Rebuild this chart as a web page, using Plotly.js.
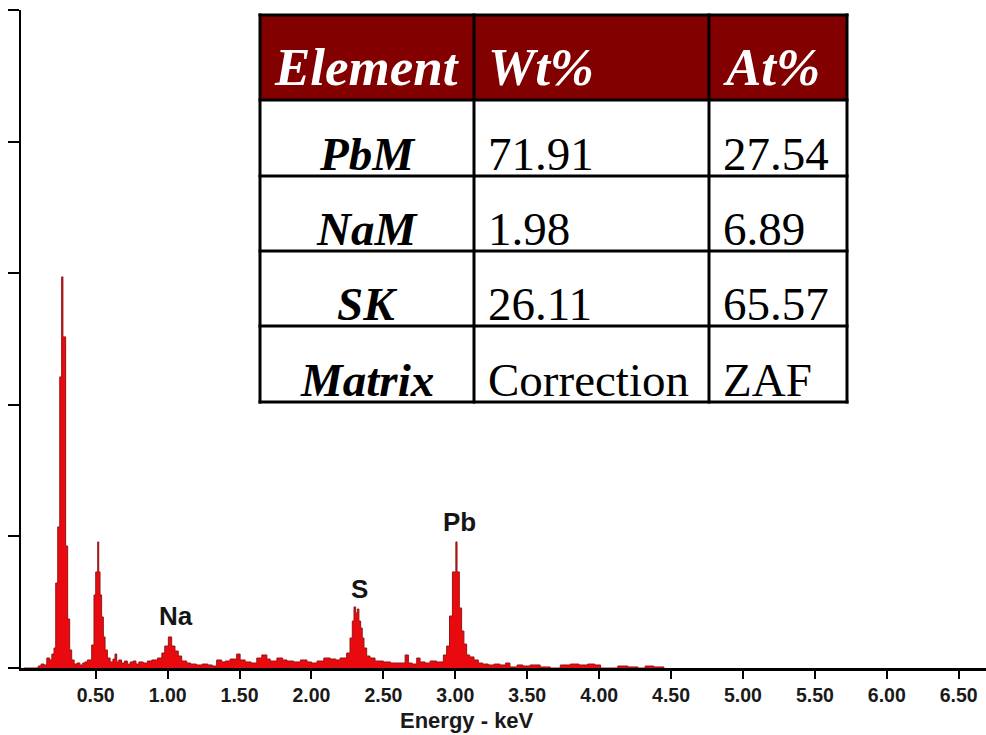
<!DOCTYPE html>
<html>
<head>
<meta charset="utf-8">
<script src="https://cdn.plot.ly/plotly-3.0.1.min.js"></script>
<style>
  html, body { margin: 0; padding: 0; background: #ffffff; }
  #chart { width: 986px; height: 735px; }
</style>
</head>
<body>
<div id="chart"></div>
<script>
// ---- Spectrum data (energy in keV, counts) ----
const energy = [0.00,0.10,0.12,0.14,0.16,0.18,0.195,0.21,0.222,0.236,
  0.250,0.263,0.272,0.291,0.305,0.319,0.333,0.35,0.37,0.39,
  0.41,0.425,0.442,0.472,0.488,0.500,0.514,0.521,0.530,0.541,
  0.553,0.565,0.581,0.60,0.62,0.634,0.646,0.66,0.68,0.70,
  0.72,0.74,0.76,0.78,0.80,0.83,0.86,0.89,0.93,0.96,
  0.98,1.005,1.028,1.051,1.074,1.098,1.133,1.16,1.20,1.24,
  1.28,1.31,1.341,1.376,1.40,1.434,1.48,1.504,1.539,1.58,
  1.62,1.655,1.69,1.713,1.76,1.80,1.83,1.876,1.923,1.969,
  2.00,2.039,2.086,2.13,2.17,2.199,2.245,2.268,2.284,2.296,
  2.307,2.319,2.330,2.342,2.353,2.365,2.384,2.407,2.442,2.50,
  2.55,2.593,2.651,2.674,2.70,2.732,2.755,2.79,2.825,2.87,
  2.917,2.940,2.960,2.980,3.004,3.012,3.028,3.044,3.060,3.079,
  3.10,3.13,3.16,3.19,3.23,3.27,3.31,3.35,3.38,3.43,
  3.47,3.52,3.59,3.66,3.73,3.80,3.86,3.92,3.97,4.01,
  4.13,4.20,4.27,4.32,4.38,4.45];
const counts = [0,15,30,23,76,61,106,152,646,1072,
  2212,2972,2516,927,372,137,61,30,38,23,
  38,46,61,175,555,730,958,730,555,388,
  236,137,76,46,68,106,46,61,38,53,
  30,46,53,30,46,38,53,61,76,114,
  167,236,167,129,91,53,38,30,23,30,
  23,15,61,46,53,68,106,61,46,38,
  76,99,68,53,76,61,53,46,61,46,
  38,53,76,68,61,76,114,228,357,464,
  418,448,357,304,228,152,91,76,53,46,
  38,38,99,38,30,76,46,38,53,46,
  99,167,395,730,958,730,456,281,182,99,
  84,61,38,30,23,30,23,38,8,23,
  15,23,8,0,23,30,23,30,23,0,
  15,8,0,15,8,0];

// ---- Axis ticks ----
const xTickVals = [0.5,1.0,1.5,2.0,2.5,3.0,3.5,4.0,4.5,5.0,5.5,6.0,6.5];
const xTickText = ["0.50","1.00","1.50","2.00","2.50","3.00","3.50","4.00","4.50","5.00","5.50","6.00","6.50"];
const yTickVals = [0,1000,2000,3000,4000,5000];
const xTitle = "Energy - keV";

// ---- Peak labels ----
const peakNames = ["Na","S","Pb"];
const peakEnergy = [1.055,2.335,3.026];
const peakLabelY = [395,600,1110];

// ---- Quantification table ----
const tableHeader = ["Element","Wt%","At%"];
const elements = ["PbM","NaM","SK"];
const wtPct = ["71.91","1.98","26.11"];
const atPct = ["27.54","6.89","65.57"];
const footerRow = ["Matrix","Correction","ZAF"];

// ---- layout geometry (pixels) ----
const W = 986, H = 735;
const M = {l: 21, r: 0, t: 10, b: 67};
const PW = W - M.l - M.r, PH = H - M.t - M.b;
const px = x => (x - M.l) / PW;          // pixel x -> paper x
const py = y => (H - M.b - y) / PH;      // pixel y -> paper y

const colEdges = [260, 474, 709, 847];
const rowEdges = [15, 100, 176, 251, 326, 402];

const shapes = [];
const annotations = [];

// white table background
shapes.push({type:'rect', xref:'paper', yref:'paper', layer:'above',
  x0:px(colEdges[0]), x1:px(colEdges[3]), y0:py(rowEdges[0]), y1:py(rowEdges[5]),
  fillcolor:'#ffffff', line:{width:0}});
// header fill
shapes.push({type:'rect', xref:'paper', yref:'paper', layer:'above',
  x0:px(colEdges[0]), x1:px(colEdges[3]), y0:py(rowEdges[0]), y1:py(rowEdges[1]),
  fillcolor:'#820000', line:{width:0}});
// grid lines
const bw = 3;
colEdges.forEach(c => shapes.push({type:'line', xref:'paper', yref:'paper', layer:'above',
  x0:px(c), x1:px(c), y0:py(rowEdges[0]-1.5), y1:py(rowEdges[5]+1.5), line:{color:'#000', width:bw}}));
rowEdges.forEach(r => shapes.push({type:'line', xref:'paper', yref:'paper', layer:'above',
  x0:px(colEdges[0]-1.5), x1:px(colEdges[3]+1.5), y0:py(r), y1:py(r), line:{color:'#000', width:bw}}));

const serif = 'Liberation Serif, Times New Roman, serif';
const hdrSize = 53, bodySize = 47;
function cellText(text, col, baselineY, size, color, bold, italic) {
  let t = text;
  if (italic) t = '<i>' + t + '</i>';
  if (bold) t = '<b>' + t + '</b>';
  const center = baselineY - 0.3375 * size;
  const a = {xref:'paper', yref:'paper', text:t, showarrow:false, borderpad:0,
    y: py(center), yanchor:'middle',
    font:{family:serif, size:size, color:color}};
  if (col === 0) { a.x = px((colEdges[0]+colEdges[1])/2); a.xanchor = 'center'; }
  else { a.x = px(colEdges[col] + 13); a.xanchor = 'left'; }
  annotations.push(a);
}
// header
tableHeader.forEach((h, i) => cellText(h, i, 85, hdrSize, '#ffffff', true, true));
// body
const bodyRows = elements.map((e, i) => [e, wtPct[i], atPct[i]]).concat([footerRow]);
bodyRows.forEach((row, r) => {
  const base = rowEdges[r+2] - 6;
  row.forEach((v, c) => cellText(v, c, base, bodySize, '#000000', c === 0, c === 0));
});

// peak labels
peakNames.forEach((n, i) => annotations.push({xref:'x', yref:'y', x:peakEnergy[i], y:peakLabelY[i],
  text:'<b>' + n + '</b>', showarrow:false, yanchor:'middle', xanchor:'center',
  font:{family:'Liberation Sans, Arial, sans-serif', size:26, color:'#151515'}}));

// axis title
annotations.push({xref:'paper', yref:'paper', x:px(466.5), y:py(720.5), xanchor:'center', yanchor:'middle',
  text:'<b>' + xTitle + '</b>', showarrow:false,
  font:{family:'Liberation Sans, Arial, sans-serif', size:22, color:'#1a1a1a'}});

const E0 = -(23.8 - M.l) / 143.83;
const E1 = E0 + PW / 143.83;

const trace = {
  type:'scatter', mode:'lines', x:energy, y:counts,
  line:{shape:'hv', color:'rgb(150,22,22)', width:1},
  fill:'tozeroy', fillcolor:'rgb(232,10,14)',
  hoverinfo:'x+y', showlegend:false
};

const layout = {
  width:W, height:H,
  margin:{l:M.l, r:M.r, t:M.t, b:M.b, pad:0},
  paper_bgcolor:'#ffffff', plot_bgcolor:'#ffffff',
  showlegend:false,
  xaxis:{range:[E0, E1], tickmode:'array', tickvals:xTickVals, ticktext:xTickText,
    ticks:'outside', ticklen:8, tickwidth:2, tickcolor:'#000',
    showline:true, linewidth:2.5, linecolor:'#000', showgrid:false, zeroline:false,
    automargin:false,
    tickfont:{family:'Liberation Sans, Arial, sans-serif', size:19.5, color:'#1a1a1a', weight:700}},
  yaxis:{range:[0, 5000], tickmode:'array', tickvals:yTickVals, showticklabels:false,
    ticks:'outside', ticklen:11, tickwidth:2, tickcolor:'#000',
    showline:true, linewidth:2.2, linecolor:'#000', showgrid:false, zeroline:false,
    automargin:false},
  shapes:shapes,
  annotations:annotations
};

Plotly.newPlot('chart', [trace], layout, {displayModeBar:false, staticPlot:true});
</script>
</body>
</html>
